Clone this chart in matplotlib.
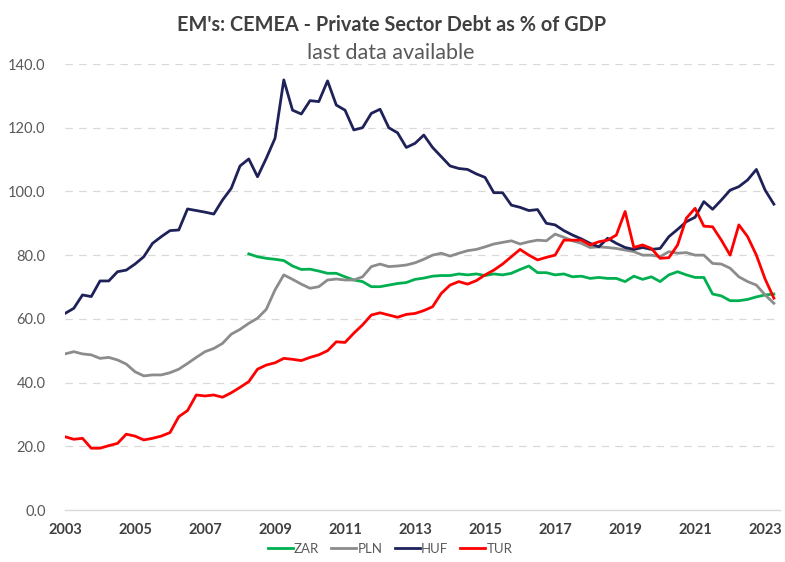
import numpy as np
import matplotlib.pyplot as plt

plt.rcParams['font.family'] = ['Lato', 'DejaVu Sans']

# Quarterly private sector debt, % of GDP, 2003Q1 .. 2023Q2
huf = [61.7, 63.3, 67.5, 67.0, 71.9, 71.9, 74.8, 75.3, 77.2, 79.5,
       83.7, 85.8, 87.7, 87.9, 94.5, 94.0, 93.5, 92.9, 97.3, 101.0,
       108.0, 110.2, 104.6, 110.4, 116.7, 135.0, 125.5, 124.3, 128.5, 128.2,
       134.7, 127.1, 125.5, 119.3, 120.0, 124.5, 125.8, 120.0, 118.4, 113.8,
       115.1, 117.7, 113.8, 110.9, 108.0, 107.2, 106.9, 105.5, 104.4, 99.6,
       99.6, 95.7, 95.0, 94.0, 94.3, 90.0, 89.5, 87.7, 86.3, 85.1,
       83.7, 82.6, 85.3, 83.7, 82.4, 81.8, 82.4, 81.8, 82.1, 85.8,
       88.1, 90.5, 91.9, 96.8, 94.4, 97.3, 100.4, 101.5, 103.6, 106.9,
       100.4, 96.0]

tur = [23.0, 22.2, 22.5, 19.4, 19.4, 20.2, 20.9, 23.8, 23.2, 22.0,
       22.5, 23.2, 24.3, 29.3, 31.2, 36.1, 35.8, 36.1, 35.4, 36.8,
       38.5, 40.3, 44.2, 45.5, 46.2, 47.6, 47.3, 46.9, 47.9, 48.7,
       50.0, 52.8, 52.6, 55.5, 58.1, 61.2, 61.9, 61.2, 60.5, 61.4,
       61.7, 62.6, 63.8, 68.0, 70.6, 71.7, 70.9, 72.0, 73.8, 75.3,
       77.2, 79.5, 81.8, 80.0, 78.5, 79.3, 80.0, 84.7, 84.7, 84.7,
       83.2, 84.2, 84.7, 86.3, 93.7, 82.4, 83.2, 82.1, 79.0, 79.2,
       83.2, 91.6, 94.7, 89.1, 88.9, 84.7, 80.0, 89.5, 85.8, 80.0,
       72.5, 66.5]

pln = [49.0, 49.7, 49.0, 48.7, 47.6, 47.9, 47.1, 45.8, 43.4, 42.1,
       42.4, 42.4, 43.1, 44.2, 46.0, 47.9, 49.7, 50.7, 52.3, 55.2,
       56.7, 58.6, 60.2, 63.0, 69.1, 73.8, 72.4, 70.9, 69.6, 70.1,
       72.2, 72.5, 72.2, 72.2, 73.2, 76.4, 77.2, 76.4, 76.6, 76.9,
       77.6, 78.7, 80.0, 80.6, 79.7, 80.6, 81.4, 81.8, 82.6, 83.5,
       84.0, 84.5, 83.5, 84.2, 84.7, 84.5, 86.6, 85.6, 84.5, 83.7,
       82.4, 82.6, 82.4, 82.1, 81.6, 81.1, 80.0, 80.0, 79.5, 81.1,
       80.6, 80.8, 80.0, 80.0, 77.4, 77.2, 75.9, 73.2, 71.7, 70.6,
       67.5, 64.9]

# South Africa only from 2008Q2
zar_start = 21
zar = [80.4, 79.5, 79.0, 78.7, 78.3, 76.6, 75.5, 75.6, 75.0, 74.3,
       74.3, 73.2, 72.2, 71.7, 70.1, 70.1, 70.6, 71.1, 71.4, 72.4,
       72.8, 73.4, 73.6, 73.6, 74.1, 73.8, 74.1, 73.6, 74.1, 73.8,
       74.3, 75.5, 76.6, 74.5, 74.5, 73.8, 74.1, 73.2, 73.4, 72.7,
       73.0, 72.7, 72.7, 71.7, 73.4, 72.4, 73.2, 71.7, 73.8, 74.8,
       73.8, 73.0, 73.0, 67.8, 67.2, 65.7, 65.7, 66.1, 66.9, 67.5,
       67.8]

first_year = 2003
tick_years = list(range(2003, 2024, 2))
y_ticks = [0, 20, 40, 60, 80, 100, 120, 140]

x = np.arange(len(huf))
x_zar = x[zar_start:zar_start + len(zar)]

fig = plt.figure(figsize=(7.85, 5.62), dpi=100)
ax = fig.add_axes([65 / 785, 1 - 510 / 562, 715 / 785, 446 / 562])

ax.plot(x_zar, zar, color='#00B050', lw=2, label='ZAR')
ax.plot(x, pln, color='#8C8C8C', lw=2, label='PLN')
ax.plot(x, huf, color='#1F2258', lw=2, label='HUF')
ax.plot(x, tur, color='#FF0000', lw=2, label='TUR')

ax.set_xlim(0, 81.7)
ax.set_ylim(0, 140)

ax.set_yticks(y_ticks)
ax.set_yticklabels([f'{v:.1f}' for v in y_ticks], fontsize=10.5, color='#595959')
ax.set_xticks([(yr - first_year) * 4 for yr in tick_years])
ax.set_xticklabels([str(yr) for yr in tick_years], fontsize=10.5,
                   fontweight='bold', color='#404040')
ax.tick_params(length=0)
ax.tick_params(axis='y', pad=14)
ax.tick_params(axis='x', pad=9)

for yv in y_ticks[1:]:
    ax.axhline(yv, color='#D9D9D9', lw=0.9, ls=(0, (6, 5)), zorder=0)

for side in ['top', 'right', 'left']:
    ax.spines[side].set_visible(False)
ax.spines['bottom'].set_color('#D9D9D9')
ax.spines['bottom'].set_linewidth(1)

fig.text(392 / 785, 1 - 25 / 562, "EM's: CEMEA - Private Sector Debt as % of GDP",
         ha='center', va='center', fontsize=14.3, fontweight='bold',
         color='#404040')
fig.text(391 / 785, 1 - 53 / 562, 'last data available', ha='center',
         va='center', fontsize=15.5, color='#595959')

leg = fig.legend(loc='center', bbox_to_anchor=(390 / 785, 1 - 549 / 562),
                 ncol=4, frameon=False, fontsize=9.5, handlelength=1.9,
                 handletextpad=0.1, columnspacing=0.9, labelcolor='#595959')

fig.savefig('out.png', dpi=100)
